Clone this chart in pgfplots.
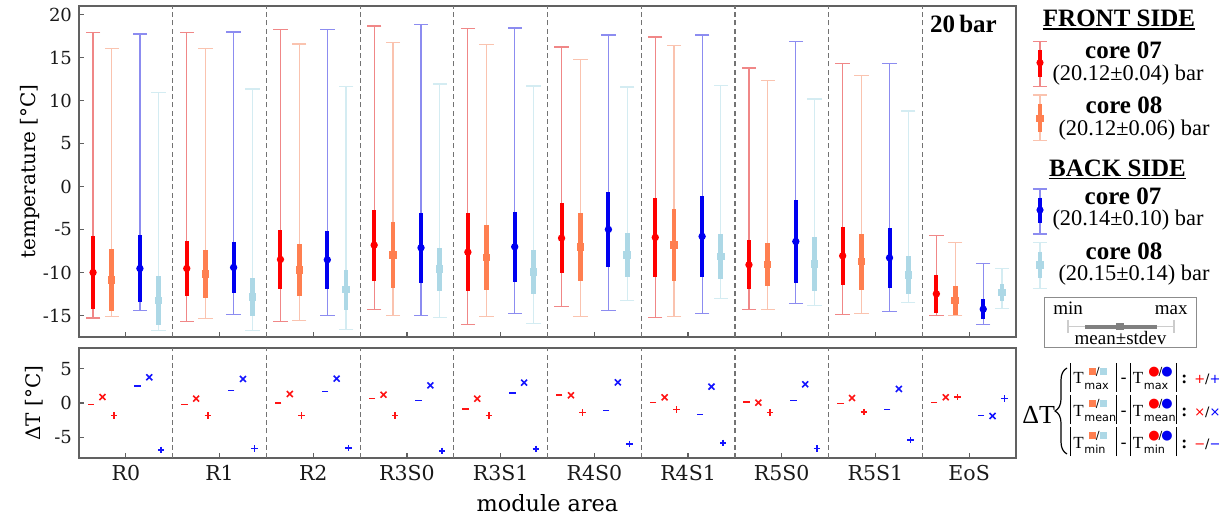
\documentclass[border=0pt]{standalone}
\usepackage{fontspec}
\setmainfont{Liberation Serif}
\newfontfamily\axfont{DejaVu Serif}
\newfontfamily\dsans{DejaVu Sans}
\usepackage{pgfplots}
\usepackage{pgfplotstable}
\pgfplotsset{compat=1.18}
\usetikzlibrary{decorations.pathreplacing}

\pgfdeclareplotmark{fcirc}{\pgfpathcircle{\pgfpointorigin}{\pgfplotmarksize}\pgfusepathqfill}
\pgfdeclareplotmark{fsq}{\pgfpathrectangle{\pgfpoint{-\pgfplotmarksize}{-\pgfplotmarksize}}{\pgfpoint{2\pgfplotmarksize}{2\pgfplotmarksize}}\pgfusepathqfill}

\definecolor{cRed}{RGB}{255,0,0}
\definecolor{cRedL}{RGB}{240,135,135}
\definecolor{cOr}{RGB}{255,127,80}
\definecolor{cOrL}{RGB}{250,195,175}
\definecolor{cBl}{RGB}{0,0,240}
\definecolor{cBlL}{RGB}{140,140,240}
\definecolor{cLb}{RGB}{173,216,230}
\definecolor{cLbL}{RGB}{212,236,242}
\definecolor{dRed}{RGB}{255,20,20}
\definecolor{dBlue}{RGB}{20,20,255}

% front side core 07
\pgfplotstableread{
mean std min max
-10.00 4.23 -15.30 17.90
-9.53 3.22 -15.74 17.90
-8.48 3.43 -15.70 18.29
-6.81 4.13 -14.34 18.68
-7.63 4.50 -16.09 18.37
-6.00 4.07 -13.99 16.24
-5.92 4.58 -15.20 17.40
-9.10 2.83 -14.30 13.79
-8.06 3.40 -14.89 14.33
-12.48 2.19 -15.04 -5.73
}\frontA
% front side core 08
\pgfplotstableread{
mean std min max
-10.85 3.63 -15.08 16.08
-10.15 2.80 -15.35 16.04
-9.69 3.00 -15.58 16.59
-7.94 3.84 -14.96 16.78
-8.25 3.80 -15.16 16.55
-7.05 3.98 -15.08 14.76
-6.78 4.15 -15.08 16.39
-9.10 2.50 -14.34 12.36
-8.75 3.24 -14.73 12.94
-13.26 1.70 -14.96 -6.50
}\frontB
% back side core 07
\pgfplotstableread{
mean std min max
-9.53 3.86 -14.42 17.75
-9.41 3.00 -14.89 17.98
-8.52 3.37 -14.96 18.29
-7.12 4.10 -15.04 18.87
-7.01 4.04 -14.77 18.45
-4.99 4.37 -14.42 17.63
-5.80 4.73 -14.73 17.63
-6.39 4.80 -13.57 16.90
-8.29 3.50 -14.54 14.33
-14.26 1.17 -16.09 -8.91
}\backA
% back side core 08
\pgfplotstableread{
mean std min max
-13.26 2.85 -16.79 10.96
-12.83 2.17 -16.71 11.35
-12.01 2.33 -16.63 11.66
-9.61 2.50 -15.27 11.93
-9.96 2.56 -15.97 11.70
-7.94 2.53 -13.29 11.58
-8.17 2.60 -12.98 11.77
-9.03 3.12 -13.80 10.18
-10.27 2.21 -13.49 8.79
-12.32 0.97 -14.15 -9.53
}\backB
% Delta T front / back
\pgfplotstableread{
dmax dmean dmin
-1.80 0.87 -0.24
-1.80 0.63 -0.24
-1.80 1.31 0.00
-1.80 1.21 0.68
-1.80 0.63 -0.87
-1.41 1.12 1.17
-0.97 0.83 0.05
-1.41 0.05 0.15
-1.31 0.73 -0.10
0.83 0.83 0.10
}\deltaF
\pgfplotstableread{
dmax dmean dmin
-6.80 3.74 2.48
-6.60 3.50 1.84
-6.55 3.54 1.70
-6.94 2.57 0.34
-6.65 2.96 1.46
-5.97 3.00 -1.07
-5.78 2.38 -1.70
-6.60 2.72 0.34
-5.39 2.04 -0.92
0.63 -1.89 -1.84
}\deltaB

\newcommand\drawseries[6]{%
  \addplot[draw=none, mark=none, forget plot,
    error bars/.cd, y dir=both, y explicit, error mark=none,
    error bar style={draw=#3, line width=0.6pt, solid}]
    table[x expr=\coordindex+#2, y=mean,
      y error plus expr=\thisrow{max}-\thisrow{mean},
      y error minus expr=\thisrow{mean}-\thisrow{min}] {#1};
  \addplot[only marks, mark=-, mark size=3.6pt, color=#3,
    mark options={draw=#3, line width=0.6pt, solid}, forget plot]
    table[x expr=\coordindex+#2, y=max] {#1};
  \addplot[only marks, mark=-, mark size=3.6pt, color=#3,
    mark options={draw=#3, line width=0.6pt, solid}, forget plot]
    table[x expr=\coordindex+#2, y=min] {#1};
  \addplot[draw=none, mark=none, forget plot,
    error bars/.cd, y dir=both, y explicit, error mark=none,
    error bar style={draw=#4, line width=#6, solid}]
    table[x expr=\coordindex+#2, y=mean, y error expr=\thisrow{std}] {#1};
  \addplot[only marks, #5, color=#4, fill=#4, mark options={fill=#4}, forget plot]
    table[x expr=\coordindex+#2, y=mean] {#1};
}

\pgfplotsset{
  commonax/.style={
    width=468.5pt, scale only axis,
    xmin=-0.5, xmax=9.5,
    xtick={0,...,9},
    tick align=inside, tick pos=left,
    major tick length=2.5pt,
    axis line style={draw=black!62, line width=0.6pt},
    tick style={draw=black!62, line width=0.6pt},
    extra x ticks={0.5,1.5,...,8.5}, extra x tick labels={},
    extra x tick style={grid=major, major tick length=0pt},
    major grid style={draw=black!55, line width=0.6pt, dash pattern=on 2.5pt off 1.6pt},
    yticklabel style={font=\axfont\fontsize{9}{10}\selectfont, text=black!90},
    xticklabel style={font=\axfont\fontsize{10.25}{12}\selectfont, text=black!90},
    /pgf/number format/assume math mode=true,
  }
}

% ----- Delta T definition pieces -----
\newcommand\subf{\dsans\fontsize{5.6}{6}\selectfont}
\newcommand\sqr[1]{\textcolor{#1}{\rule{3.4pt}{3.4pt}}}
\newcommand\crc[1]{\textcolor{#1}{{\dsans\fontsize{6.5}{7}\selectfont ●}}}
\newcommand\supA{\sqr{cOr}\kern0.2pt{\subf/}\kern0.2pt\sqr{cLb}}
\newcommand\supB{\crc{cRed}\kern-0.5pt{\subf/}\kern-0.5pt\crc{cBl}}
\newcommand\vbar{\rule[-4pt]{0.5pt}{14.5pt}}
\newcommand\Tgrp[2]{\vbar\kern1pt{\fontsize{8.5}{10}\selectfont T}\kern0.3pt\makebox[15.6pt][l]{\raisebox{4.4pt}{\makebox[0pt][l]{\kern2.2pt#1}}\raisebox{-2.6pt}{\subf #2}}\kern0.4pt\vbar}
\newcommand\dline[3]{\Tgrp{\supA}{#1}\kern1.6pt{\dsans\fontsize{8.5}{10}\selectfont -}\kern1.6pt\Tgrp{\supB}{#1}\kern2.2pt{\fontsize{9}{10}\selectfont\textbf{:}}\kern3.5pt{\dsans\fontsize{6.5}{8}\selectfont\textcolor{red}{#2}/\textcolor{blue}{#3}}}

\newcommand\glyph[7]{% x, top, bottom, thick top, thick bottom, light, main
  \draw[#6, line width=0.6pt] (#1,#2) -- (#1,#3);
  \draw[#6, line width=0.6pt] ([xshift=-3.6pt]#1,#2) -- ([xshift=3.6pt]#1,#2);
  \draw[#6, line width=0.6pt] ([xshift=-3.6pt]#1,#3) -- ([xshift=3.6pt]#1,#3);
  \draw[#7, line width=2.1pt] (#1,#4) -- (#1,#5);
}

\begin{document}
\begin{tikzpicture}
\path[use as bounding box] (0,0) rectangle (613.5pt,-259pt);

% ---------------- main axis ----------------
\begin{axis}[commonax,
  at={(39.5pt,-3pt)}, anchor=north west,
  height=165.5pt,
  ymin=-17.5, ymax=21,
  xticklabels={},
  ytick={-15,-10,...,20},
  ylabel={temperature [°C]},
  ylabel style={font=\axfont\fontsize{10}{12}\selectfont, at={(axis description cs:-0.0523,0.5)}, anchor=center},
]
\drawseries{\frontA}{-0.35}{cRedL}{cRed}{mark=fcirc, mark size=1.85pt}{2pt}
\drawseries{\frontB}{-0.15}{cOrL}{cOr}{mark=fsq, mark size=1.85pt}{2.4pt}
\drawseries{\backA}{0.15}{cBlL}{cBl}{mark=fcirc, mark size=1.85pt}{2pt}
\drawseries{\backB}{0.35}{cLbL}{cLb}{mark=fsq, mark size=1.85pt}{2.4pt}
\node[anchor=base east, font=\bfseries\fontsize{12.5}{14}\selectfont] at (axis description cs:0.987,0.92) {20\,bar};
\end{axis}

% ---------------- delta axis ----------------
\begin{axis}[commonax,
  at={(39.5pt,-174pt)}, anchor=north west,
  height=55pt,
  ymin=-8, ymax=8,
  ytick={-5,0,5},
  xticklabels={R0,R1,R2,R3S0,R3S1,R4S0,R4S1,R5S0,R5S1,EoS},
  xlabel={module area},
  xlabel style={font=\axfont\fontsize{11.2}{13}\selectfont, at={(axis description cs:0.5,-0.482)}, anchor=base},
  ylabel={ΔT [°C]},
  ylabel style={font=\axfont\fontsize{10}{12}\selectfont, at={(axis description cs:-0.048,0.5)}, anchor=center},
]
\addplot[only marks, mark=-, mark size=1.6pt, color=dRed, mark options={draw=dRed, line width=0.8pt}] table[x expr=\coordindex-0.375, y=dmin] {\deltaF};
\addplot[only marks, mark=x, mark size=2.1pt, color=dRed, mark options={draw=dRed, line width=0.8pt}] table[x expr=\coordindex-0.25, y=dmean] {\deltaF};
\addplot[only marks, mark=+, mark size=1.6pt, color=dRed, mark options={draw=dRed, line width=0.8pt}] table[x expr=\coordindex-0.125, y=dmax] {\deltaF};
\addplot[only marks, mark=-, mark size=1.6pt, color=dBlue, mark options={draw=dBlue, line width=0.8pt}] table[x expr=\coordindex+0.125, y=dmin] {\deltaB};
\addplot[only marks, mark=x, mark size=2.1pt, color=dBlue, mark options={draw=dBlue, line width=0.8pt}] table[x expr=\coordindex+0.25, y=dmean] {\deltaB};
\addplot[only marks, mark=+, mark size=1.6pt, color=dBlue, mark options={draw=dBlue, line width=0.8pt}] table[x expr=\coordindex+0.375, y=dmax] {\deltaB};
\end{axis}

% ---------------- legend ----------------
\node[anchor=base, inner sep=0pt, font=\bfseries\fontsize{12.5}{14}\selectfont] (fs) at (559.5pt,-13.5pt) {FRONT SIDE};
\draw[line width=0.65pt] ([yshift=-1pt]fs.base west) -- ([yshift=-1pt]fs.base east);
\node[anchor=base, font=\bfseries\fontsize{12.5}{14}\selectfont] at (561.75pt,-29.15pt) {core 07};
\node[anchor=base, font=\fontsize{11.2}{13}\selectfont] at (564pt,-40.5pt) {(20.12±0.04) bar};
\node[anchor=base, font=\bfseries\fontsize{12.5}{14}\selectfont] at (562pt,-57pt) {core 08};
\node[anchor=base, font=\fontsize{11.2}{13}\selectfont] at (567pt,-68pt) {(20.12±0.06) bar};
\node[anchor=base, inner sep=0pt, font=\bfseries\fontsize{12.5}{14}\selectfont] (bs) at (558.75pt,-88.35pt) {BACK SIDE};
\draw[line width=0.65pt] ([yshift=-1pt]bs.base west) -- ([yshift=-1pt]bs.base east);
\node[anchor=base, font=\bfseries\fontsize{12.5}{14}\selectfont] at (561.5pt,-102.5pt) {core 07};
\node[anchor=base, font=\fontsize{11.2}{13}\selectfont] at (564pt,-113pt) {(20.14±0.10) bar};
\node[anchor=base, font=\bfseries\fontsize{12.5}{14}\selectfont] at (562pt,-130pt) {core 08};
\node[anchor=base, font=\fontsize{11.2}{13}\selectfont] at (567pt,-140.5pt) {(20.15±0.14) bar};

\glyph{520pt}{-20.85pt}{-43.35pt}{-25pt}{-38.5pt}{cRedL}{cRed}
\fill[cRed] (520pt,-31.35pt) circle (1.8pt);
\glyph{520pt}{-47.5pt}{-70.35pt}{-52pt}{-65.85pt}{cOrL}{cOr}
\fill[cOr] (518.2pt,-60.95pt) rectangle (521.8pt,-57.35pt);
\glyph{520pt}{-94.5pt}{-117pt}{-98.85pt}{-111.35pt}{cBlL}{cBl}
\fill[cBl] (520pt,-105pt) circle (1.8pt);
\glyph{520pt}{-121.35pt}{-144.15pt}{-125.85pt}{-139.15pt}{cLbL}{cLb}
\fill[cLb] (518.2pt,-134.3pt) rectangle (521.8pt,-130.7pt);

% min / max box
\draw[black!45, line width=0.5pt] (522pt,-149pt) rectangle (598pt,-174pt);
\node[anchor=base west, inner sep=0pt, font=\fontsize{9.5}{11}\selectfont] at (526.5pt,-157.5pt) {min};
\node[anchor=base east, inner sep=0pt, font=\fontsize{9.5}{11}\selectfont] at (594pt,-157.5pt) {max};
\draw[black!20, line width=0.6pt] (534pt,-163.35pt) -- (587pt,-163.35pt);
\draw[black!20, line width=0.6pt] (534pt,-160.2pt) -- (534pt,-166.5pt);
\draw[black!20, line width=0.6pt] (587pt,-160.2pt) -- (587pt,-166.5pt);
\draw[black!50, line width=2pt] (542.5pt,-163.35pt) -- (578.5pt,-163.35pt);
\fill[black!50] (558.2pt,-165.15pt) rectangle (561.8pt,-161.55pt);
\node[anchor=base, inner sep=0pt, font=\fontsize{9.5}{11}\selectfont] at (560.25pt,-172pt) {mean±stdev};

% Delta T definition
\node[anchor=base west, inner sep=0pt, font=\fontsize{13}{15}\selectfont] at (511pt,-211.5pt) {ΔT};
\draw[decorate, decoration={brace, amplitude=6pt}, line width=0.6pt] (533.5pt,-227pt) -- (533.5pt,-184pt);
\node[anchor=base west, inner sep=0pt] at (535pt,-192pt) {\dline{max}{+}{+}};
\node[anchor=base west, inner sep=0pt] at (535pt,-208pt) {\dline{mean}{×}{×}};
\node[anchor=base west, inner sep=0pt] at (535pt,-224pt) {\dline{min}{−}{−}};
\end{tikzpicture}
\end{document}
